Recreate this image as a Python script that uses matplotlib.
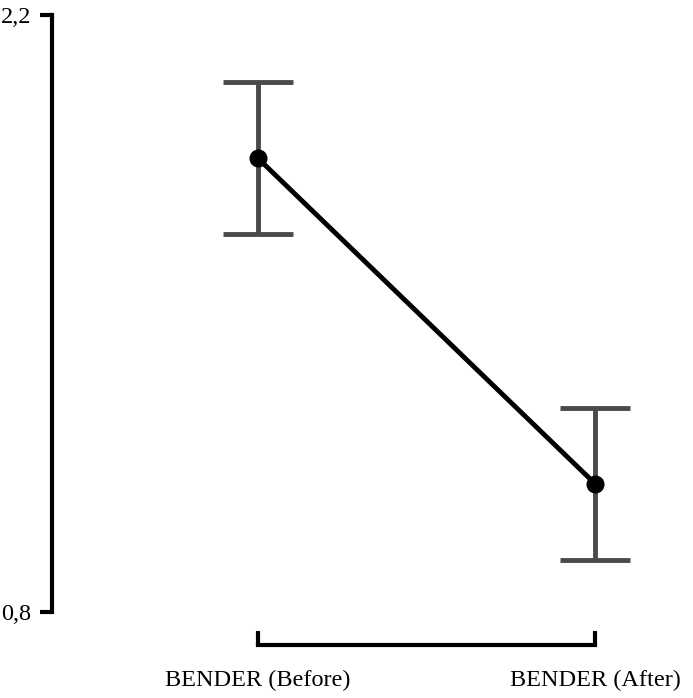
import matplotlib
matplotlib.use("Agg")
import matplotlib.pyplot as plt

conditions = ["BENDER (Before)", "BENDER (After)"]
means = [1.864, 1.101]
errors = [0.178, 0.178]
y_ticks = [0.8, 2.2]
y_tick_labels = ["0,8", "2,2"]

plt.rcParams["font.family"] = ["Liberation Serif", "DejaVu Serif"]

fig = plt.figure(figsize=(6.93, 6.98), dpi=100)
ax = fig.add_axes([52 / 693, 1 - 612 / 698, 641 / 693, 597 / 698])

x = list(range(len(conditions)))
ax.errorbar(x, means, yerr=errors, fmt="none", ecolor="#4a4a4a",
            elinewidth=3.5, capsize=25, capthick=3.5, zorder=2)
ax.plot(x, means, color="black", linewidth=3.5, marker="o",
        markersize=12, zorder=3)

ax.set_xlim(-206 / 337, 1 + 98 / 337)
ax.set_ylim(0.8, 2.2)

for s in ["top", "right"]:
    ax.spines[s].set_visible(False)
ax.spines["left"].set_linewidth(3)
ax.spines["left"].set_bounds(0.8, 2.2)
ax.spines["bottom"].set_linewidth(3)
ax.spines["bottom"].set_bounds(0, 1)
ax.spines["bottom"].set_position(("outward", 24))

ax.set_yticks(y_ticks)
ax.set_yticklabels(y_tick_labels, fontsize=17.5)
ax.tick_params(axis="y", direction="out", length=9, width=3, pad=6)

ax.set_xticks(x)
ax.set_xticklabels(conditions, fontsize=17.5)
ax.tick_params(axis="x", direction="in", length=10, width=3, pad=18)

fig.savefig("out.png", dpi=100)
